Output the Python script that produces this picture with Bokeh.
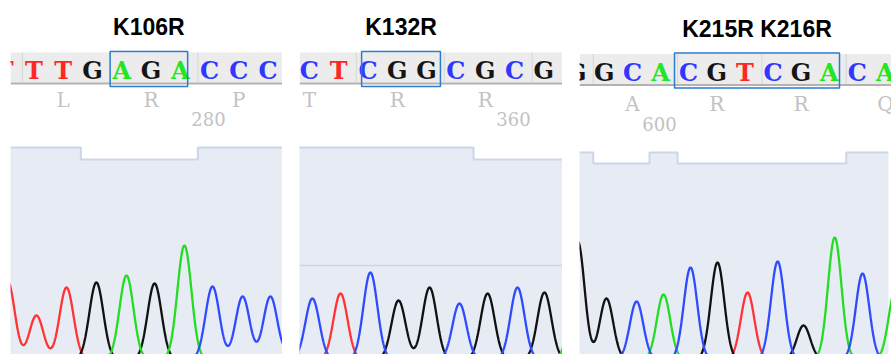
import numpy as np
from bokeh.plotting import figure
from bokeh.layouts import row
from bokeh.models import Range1d, BoxAnnotation, Span, ColumnDataSource
from bokeh.core.properties import value
from bokeh.embed import file_html
from bokeh.resources import INLINE

# ------------------------------------------------------------------ data
# panel K106R  (bases 273..283)
k106r_title = "K106R"
k106r_first = 273
k106r_bases = "TTTGAGACCCC"
k106r_peak_pos = [273.0, 273.98, 275.01, 276.03, 277.06, 278.02, 279.04, 280.0, 281.03, 281.98, 283.0]
k106r_peak_h = [780, 440, 720, 770, 840, 760, 1140, 730, 630, 630, 600]
k106r_qual = [53, 53, 53, 50, 50, 50, 50, 53, 53, 53, 53]
k106r_aa = ["L", "R", "P"]
k106r_aa_center = [275, 278, 281]
k106r_box = [276.5, 279.15]
k106r_ruler = [280]
k106r_view = [273.094, 282.393]

# panel K132R  (bases 352..362)
k132r_title = "K132R"
k132r_first = 352
k132r_bases = "ACTCGGCGCGA"
k132r_peak_pos = [352.0, 353.0, 353.96, 354.98, 355.94, 357.0, 358.02, 358.98, 360.0, 360.92, 362.0]
k132r_peak_h = [700, 610, 660, 870, 590, 720, 560, 660, 720, 670, 700]
k132r_qual = [53, 53, 53, 53, 53, 53, 53, 50, 50, 50, 50]
k132r_aa = ["T", "R", "R"]
k132r_aa_center = [353, 356, 359]
k132r_box = [354.68, 357.37]
k132r_ruler = [360]
k132r_view = [352.56, 361.536]
k132r_guide = 940

# panel K215R K216R  (bases 597..608)
k215r_title = "K215R K216R"
k215r_first = 597
k215r_bases = "GGCACGTCGACA"
k215r_peak_pos = [596.95, 597.97, 599.04, 600.0, 600.96, 601.92, 602.99, 604.06, 604.98, 606.09, 607.08, 608.25]
k215r_peak_h = [1180, 610, 580, 650, 920, 970, 670, 980, 340, 1220, 860, 700]
k215r_qual = [51.75, 49, 49, 51.75, 49, 49, 49, 49, 49, 49, 51.75, 51.75]
k215r_aa = ["A", "R", "R", "Q"]
k215r_aa_center = [599, 602, 605, 608]
k215r_box = [600.39, 606.26]
k215r_ruler = [600]
k215r_view = [597.01, 608.11]

# ------------------------------------------------------------------ style
BASE_COL = {"A": "#22e622", "C": "#3038ff", "G": "#151515", "T": "#ff2626"}
TRACE_COL = {"A": "#22dd22", "C": "#2f4bff", "G": "#111111", "T": "#ff3333"}
SIGMA = 0.24
H = 354


def panel(title, first, bases, pos, heights, qual, aa, aa_c, box, ruler, view,
          width, left_border, dy=(0, 0, 0, 0), guide=None):
    p = figure(width=width, height=H, x_range=Range1d(*view),
               y_range=Range1d(50, 3590), output_backend="svg",
               toolbar_location=None, x_axis_location=None, y_axis_location=None,
               min_border_left=left_border, min_border_right=0,
               min_border_top=0, min_border_bottom=0)
    p.outline_line_color = None
    p.grid.visible = False
    p.background_fill_color = "white"
    p.border_fill_color = "white"
    p.extra_y_ranges = {"hdr": Range1d(H, 0), "q": Range1d(5 / 4, 359 / 4)}

    dt, ds, da, dn = dy
    nums = [first + i for i in range(len(bases))]

    # quality area
    p.varea_step(x=nums, y1=[0] * len(nums), y2=qual, step_mode="center",
                 fill_color="#e7ebf4", y_range_name="q")
    p.step(x=nums, y=qual, mode="center", line_color="#cbd6e9", line_width=2,
           y_range_name="q")
    if guide is not None:
        p.add_layout(Span(location=guide, dimension="width", line_color="#cfd4de",
                          line_width=1.5))

    # traces
    xs = np.linspace(view[0] - 0.6, view[1] + 0.6, 900)
    for ch in "TGAC":
        y = np.zeros_like(xs)
        for b, c, h in zip(bases, pos, heights):
            if b == ch:
                y += h * np.exp(-((xs - c) ** 2) / (2 * SIGMA ** 2))
        p.line(xs, y, line_color=TRACE_COL[ch], line_width=2.3)

    # sequence strip
    p.add_layout(BoxAnnotation(top=52 + ds, bottom=82 + ds, y_range_name="hdr",
                               fill_color="#ececec", fill_alpha=1, line_color=None,
                               level="underlay"))
    p.add_layout(BoxAnnotation(top=82 + ds, bottom=84 + ds, y_range_name="hdr",
                               fill_color="#b2b2b2", fill_alpha=1, line_color=None,
                               level="underlay"))
    bounds = sorted(set([c - 1.5 for c in aa_c] + [c + 1.5 for c in aa_c]))
    p.segment(x0=bounds, x1=bounds, y0=[52 + ds] * len(bounds), y1=[82 + ds] * len(bounds),
              line_color="#d6d6d6", line_width=1, y_range_name="hdr")
    src = ColumnDataSource(dict(x=nums, t=list(bases), c=[BASE_COL[b] for b in bases]))
    p.text(x="x", y=70 + ds, text="t", source=src, text_color="c",
           text_font=value("DejaVu Serif"), text_font_style="bold",
           text_font_size="24px", text_align="center", text_baseline="middle",
           x_offset=-3, y_range_name="hdr")
    p.quad(left=[box[0]], right=[box[1]], top=[51 + ds], bottom=[86 + ds],
           fill_alpha=0, line_color="#2a7bd0", line_width=1.5, y_range_name="hdr")

    # amino acids and ruler
    p.text(x=aa_c, y=[99.5 + da] * len(aa_c), text=aa, text_color="#c2c2c2",
           text_font=value("DejaVu Serif"), text_font_size="20px",
           text_align="center", text_baseline="middle", x_offset=-3,
           y_range_name="hdr")
    p.text(x=ruler, y=[118.5 + dn] * len(ruler), text=[str(r) for r in ruler],
           text_color="#c2c2c2", text_font=value("DejaVu Serif"),
           text_font_size="18px", text_align="center", text_baseline="middle",
           x_offset=-4, y_range_name="hdr")

    # title centred over the mutated codon box
    p.text(x=[(box[0] + box[1]) / 2], y=[26 + dt], text=[title], text_color="black",
           text_font=value("Liberation Sans"), text_font_style="bold",
           text_font_size="23px", text_align="center", text_baseline="middle",
           y_range_name="hdr")
    return p


p1 = panel(k106r_title, k106r_first, k106r_bases, k106r_peak_pos, k106r_peak_h,
           k106r_qual, k106r_aa, k106r_aa_center, k106r_box, k106r_ruler,
           k106r_view, 282, 10)
p2 = panel(k132r_title, k132r_first, k132r_bases, k132r_peak_pos, k132r_peak_h,
           k132r_qual, k132r_aa, k132r_aa_center, k132r_box, k132r_ruler,
           k132r_view, 263, 0, guide=k132r_guide)
p3 = panel(k215r_title, k215r_first, k215r_bases, k215r_peak_pos, k215r_peak_h,
           k215r_qual, k215r_aa, k215r_aa_center, k215r_box, k215r_ruler,
           k215r_view, 312, 0, dy=(2, 1.5, 4, 5))

layout = row(p1, p2, p3, spacing=17)
open("out.html", "w").write(file_html(layout, INLINE))
